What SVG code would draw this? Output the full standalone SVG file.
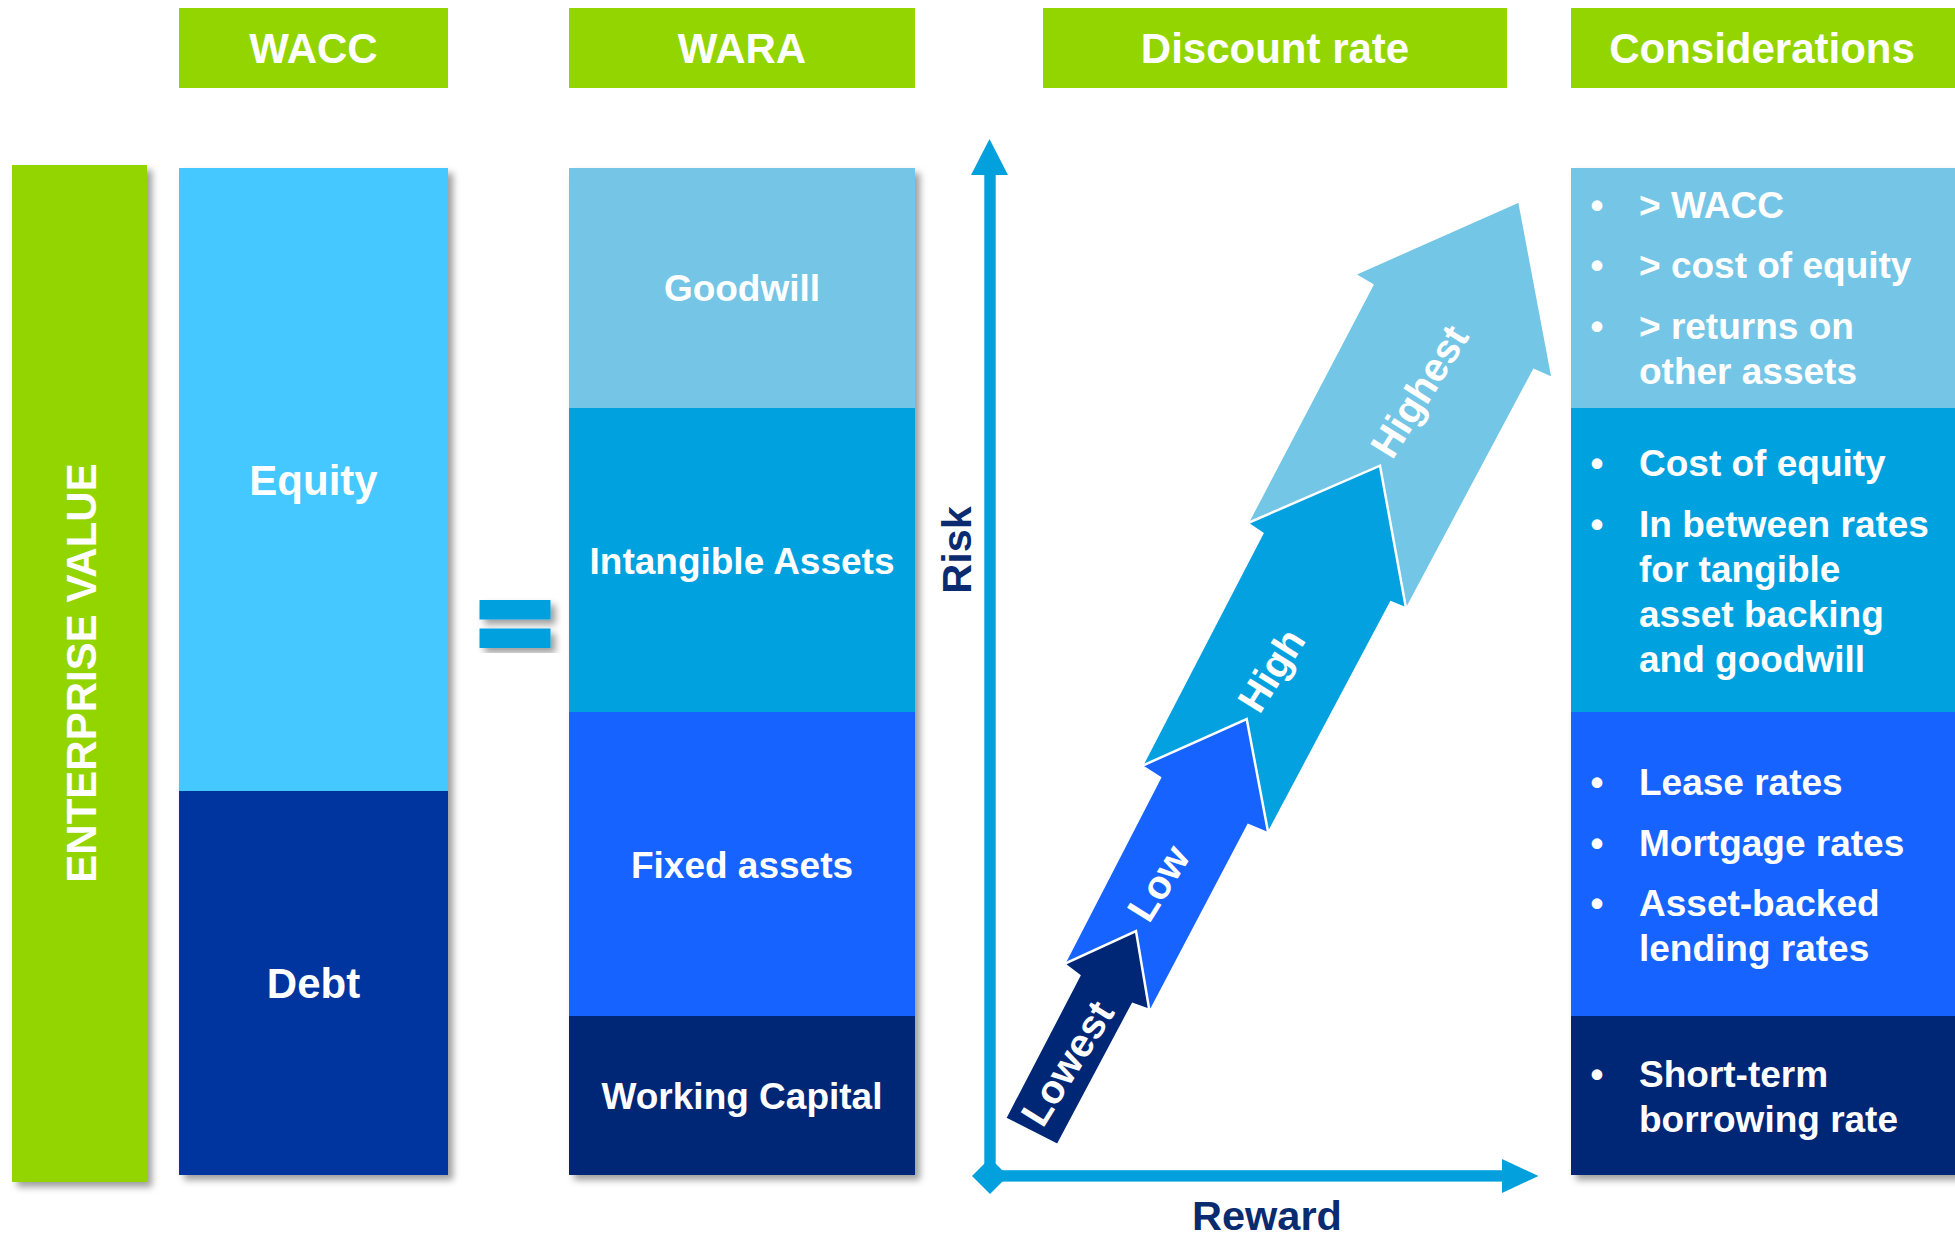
<svg xmlns="http://www.w3.org/2000/svg" width="1955" height="1235" viewBox="0 0 1955 1235">
  <defs>
    <filter id="shadow" x="-10%" y="-5%" width="125%" height="115%">
      <feDropShadow dx="5" dy="5" stdDeviation="3.5" flood-color="#000" flood-opacity="0.38"/>
    </filter>
    <style>
      text { font-family: "Liberation Sans", Arial, sans-serif; font-weight: bold; }
      .hdr { fill: #93D500; }
      .hdr-t { fill: #fff; font-size: 42px; text-anchor: middle; }
      .lbl { fill: #fff; font-size: 37px; text-anchor: middle; }
      .lbl-big { fill: #fff; font-size: 42px; text-anchor: middle; }
      .step-t { fill: #fff; font-size: 40px; text-anchor: middle; }
      .axis-t { fill: #0B2B70; font-size: 41.5px; text-anchor: middle; }
      .cons { fill: #fff; font-size: 37px; }
      .bul { fill: #fff; font-size: 37px; text-anchor: middle; }
      .step { stroke: #fff; stroke-width: 2.5; stroke-linejoin: miter; }
      .c-goodwill { fill: #74C6E6; }
      .c-intang { fill: #03A1DF; }
      .c-fixed { fill: #1763FF; }
      .c-wc { fill: #002776; }
      .axis { fill: #03A0DE; }
    </style>
  </defs>

  <!-- column headers -->
  <g id="hdr-wacc">
    <rect class="hdr" x="179" y="8" width="269" height="80"/>
    <text class="hdr-t" x="313.5" y="63">WACC</text>
  </g>
  <g id="hdr-wara">
    <rect class="hdr" x="569" y="8" width="346" height="80"/>
    <text class="hdr-t" x="742" y="63">WARA</text>
  </g>
  <g id="hdr-discount">
    <rect class="hdr" x="1043" y="8" width="464" height="80"/>
    <text class="hdr-t" x="1275" y="63">Discount rate</text>
  </g>
  <g id="hdr-considerations">
    <rect class="hdr" x="1571" y="8" width="384" height="80"/>
    <text class="hdr-t" x="1762" y="63">Considerations</text>
  </g>

  <!-- enterprise value bar -->
  <g id="enterprise-value">
    <rect x="12" y="165" width="135" height="1017" fill="#93D500" filter="url(#shadow)"/>
    <text class="lbl-big" transform="translate(80.5,673) rotate(-90)" x="0" y="15">ENTERPRISE VALUE</text>
  </g>

  <!-- WACC column: equity over debt -->
  <g id="wacc-column">
    <g filter="url(#shadow)">
      <rect x="179" y="168" width="269" height="624" fill="#45C8FF"/>
      <rect x="179" y="791" width="269" height="384" fill="#0036A0"/>
    </g>
    <text class="lbl-big" x="313.5" y="495">Equity</text>
    <text class="lbl-big" x="313.5" y="998">Debt</text>
  </g>

  <!-- equals sign -->
  <g id="equals" filter="url(#shadow)">
    <rect x="479.5" y="600" width="71" height="19.5" class="axis"/>
    <rect x="479.5" y="628.5" width="71" height="19.5" class="axis"/>
  </g>

  <!-- WARA column -->
  <g id="wara-column">
    <g filter="url(#shadow)">
      <rect class="c-goodwill" x="569" y="168" width="346" height="241"/>
      <rect class="c-intang" x="569" y="408" width="346" height="305"/>
      <rect class="c-fixed" x="569" y="712" width="346" height="305"/>
      <rect class="c-wc" x="569" y="1016" width="346" height="159"/>
    </g>
    <text class="lbl" x="742" y="301">Goodwill</text>
    <text class="lbl" x="742" y="573.5">Intangible Assets</text>
    <text class="lbl" x="742" y="877.5">Fixed assets</text>
    <text class="lbl" x="742" y="1108.5">Working Capital</text>
  </g>

  <!-- risk / reward axes -->
  <g id="connectors">
    <rect class="axis" x="984.3" y="172" width="11.4" height="1004"/>
    <polygon class="axis" points="989.5,139 1008,175 971,175"/>
    <rect class="axis" x="990" y="1170.2" width="514" height="11.4"/>
    <polygon class="axis" points="1502,1159 1538.5,1176 1502,1193"/>
    <polygon class="axis" points="972,1176 990,1158 1008,1176 990,1194"/>
  </g>
  <g id="axis-labels">
    <text class="axis-t" transform="translate(956,550) rotate(-90)" x="0" y="14.8">Risk</text>
    <text class="axis-t" x="1267" y="1230">Reward</text>
  </g>

  <!-- discount rate steps, drawn from the top step down -->
  <g id="step-highest">
    <polygon class="step c-goodwill" points="1247.3,523.3 1372.3,285 1354.3,274.3 1519.3,201 1552.7,378.3 1534,370 1407,608.3"/>
    <text class="step-t" transform="translate(1419,391) rotate(-58)" x="0" y="14.3">Highest</text>
  </g>
  <g id="step-high">
    <polygon class="step c-intang" points="1141.7,766 1262.3,533.3 1247.3,523.3 1380,465.7 1406,608.3 1391,602.3 1268.3,833.3"/>
    <text class="step-t" transform="translate(1271,670) rotate(-58)" x="0" y="14.3">High</text>
  </g>
  <g id="step-low">
    <polygon class="step c-fixed" points="1064,964 1160,777.7 1141.7,766 1246.7,719 1268.3,833.3 1248.3,825 1151,1010"/>
    <text class="step-t" transform="translate(1158,883) rotate(-58)" x="0" y="14.3">Low</text>
  </g>
  <g id="step-lowest">
    <polygon class="step c-wc" points="1005,1118.3 1079.3,975.7 1064,964 1136,931 1149.3,1010 1132.7,1004 1057.7,1145"/>
    <text class="step-t" transform="translate(1067,1063) rotate(-58)" x="0" y="14.3">Lowest</text>
  </g>

  <!-- considerations column -->
  <g id="considerations">
    <g filter="url(#shadow)">
      <rect class="c-goodwill" x="1571" y="168" width="390" height="241"/>
      <rect class="c-intang" x="1571" y="408" width="390" height="305"/>
      <rect class="c-fixed" x="1571" y="712" width="390" height="305"/>
      <rect class="c-wc" x="1571" y="1016" width="390" height="159"/>
    </g>
    <g id="cons-goodwill">
      <text class="bul" x="1597" y="218">•</text>
      <text class="cons" x="1639" y="218">&gt; WACC</text>
      <text class="bul" x="1597" y="278">•</text>
      <text class="cons" x="1639" y="278">&gt; cost of equity</text>
      <text class="bul" x="1597" y="339">•</text>
      <text class="cons" x="1639" y="339">&gt; returns on</text>
      <text class="cons" x="1639" y="384">other assets</text>
    </g>
    <g id="cons-intangible">
      <text class="bul" x="1597" y="476">•</text>
      <text class="cons" x="1639" y="476">Cost of equity</text>
      <text class="bul" x="1597" y="537">•</text>
      <text class="cons" x="1639" y="537">In between rates</text>
      <text class="cons" x="1639" y="581.5">for tangible</text>
      <text class="cons" x="1639" y="626.5">asset backing</text>
      <text class="cons" x="1639" y="671.5">and goodwill</text>
    </g>
    <g id="cons-fixed">
      <text class="bul" x="1597" y="795">•</text>
      <text class="cons" x="1639" y="795">Lease rates</text>
      <text class="bul" x="1597" y="856">•</text>
      <text class="cons" x="1639" y="856">Mortgage rates</text>
      <text class="bul" x="1597" y="915.5">•</text>
      <text class="cons" x="1639" y="915.5">Asset-backed</text>
      <text class="cons" x="1639" y="960.5">lending rates</text>
    </g>
    <g id="cons-wc">
      <text class="bul" x="1597" y="1087">•</text>
      <text class="cons" x="1639" y="1087">Short-term</text>
      <text class="cons" x="1639" y="1132">borrowing rate</text>
    </g>
  </g>
</svg>
